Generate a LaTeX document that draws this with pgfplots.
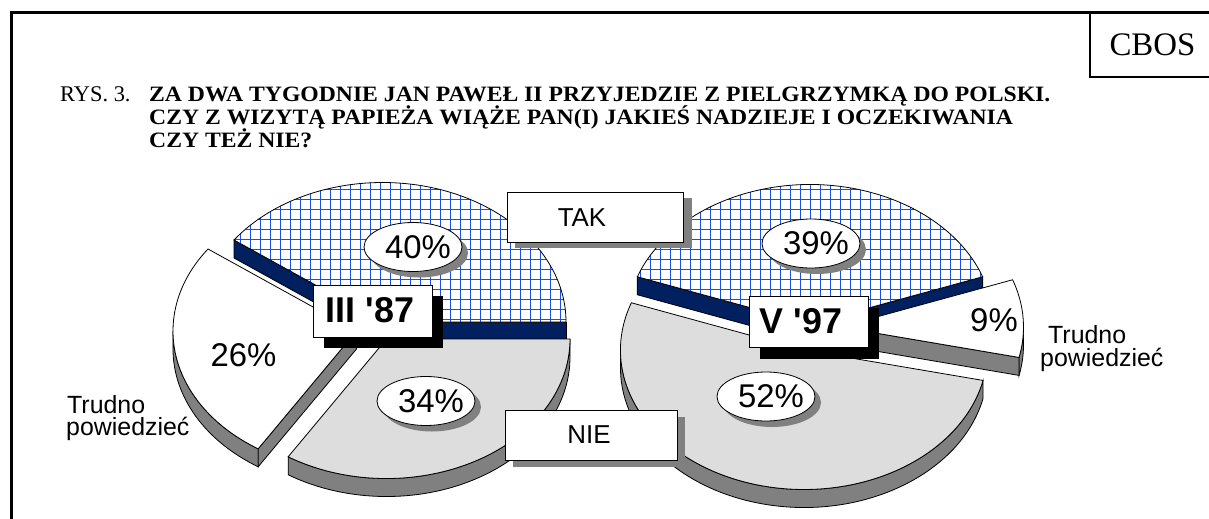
\documentclass[border=0pt]{standalone}
\usepackage{fontspec}
\setmainfont{Liberation Serif}
\newfontfamily\arial{Liberation Sans}
\newfontfamily\titlefont[FakeStretch=1.08]{Liberation Serif}
\usepackage{pgfplots}
\pgfplotsset{compat=1.18}
\usepackage{pgfplotstable}

\definecolor{navy}{RGB}{0,32,96}
\definecolor{hatchblue}{RGB}{25,80,225}
\definecolor{lgray}{RGB}{221,221,221}
\definecolor{sgray}{RGB}{128,128,128}

\tikzset{
  side/.style={fill=#1, draw=black, line width=0.8bp},
  hgrid/.style={draw=hatchblue, line width=1.3bp, step=10bp}}

% survey results (%): III '87 and V '97
\pgfplotstableread{
label  y1987 y1997
TAK    40    39
NIE    34    52
Trudno 26    9
}\piedata

\pgfplotstablegetelem{0}{y1987}\of\piedata \edef\aTAK{\pgfplotsretval}
\pgfplotstablegetelem{1}{y1987}\of\piedata \edef\aNIE{\pgfplotsretval}
\pgfplotstablegetelem{2}{y1987}\of\piedata \edef\aTR{\pgfplotsretval}
\pgfplotstablegetelem{0}{y1997}\of\piedata \edef\bTAK{\pgfplotsretval}
\pgfplotstablegetelem{1}{y1997}\of\piedata \edef\bNIE{\pgfplotsretval}
\pgfplotstablegetelem{2}{y1997}\of\piedata \edef\bTR{\pgfplotsretval}

\newcommand{\RX}{183.5bp}
\newcommand{\RY}{139.5bp}
\newcommand{\DP}{18bp}
% top face: cx, cy, a1, a2, style
\newcommand{\topface}[5]{%
  \path[#5] (axis cs:#1,#2) -- ([shift={(#3:\RX\space and \RY)}]axis cs:#1,#2)
    arc[start angle=#3, end angle=#4, x radius=\RX, y radius=\RY] -- cycle;}
% hatched top face: cx, cy, a1, a2
\newcommand{\hatchface}[4]{%
  \topface{#1}{#2}{#3}{#4}{fill=white}
  \begin{scope}
    \topface{#1}{#2}{#3}{#4}{clip}
    \draw[hgrid, xshift=0.5bp, yshift=0.5bp] ([shift={(-200bp,-40bp)}]axis cs:#1,#2) grid ([shift={(200bp,160bp)}]axis cs:#1,#2);
  \end{scope}
  \topface{#1}{#2}{#3}{#4}{draw=black, line width=0.8bp}}
% outer side: cx, cy, b1, b2, style
\newcommand{\outerside}[5]{%
  \path[#5] ([shift={(#3:\RX\space and \RY)}]axis cs:#1,#2)
    arc[start angle=#3, end angle=#4, x radius=\RX, y radius=\RY] -- ++(0,-\DP)
    arc[start angle=#4, end angle=#3, x radius=\RX, y radius=\RY] -- cycle;}
% radial side: cx, cy, a, style
\newcommand{\radial}[4]{%
  \path[#4] (axis cs:#1,#2) -- ([shift={(#3:\RX\space and \RY)}]axis cs:#1,#2)
    -- ++(0,-\DP) -- ([yshift=-\DP]axis cs:#1,#2) -- cycle;}
% percentage label in ellipse: x, y, text
\newcommand{\pctell}[3]{%
  \fill[sgray] ([shift={(6bp,-6bp)}]axis cs:#1,#2) ellipse[x radius=49bp, y radius=24.5bp];
  \filldraw[fill=white, draw=black, line width=0.8bp] (axis cs:#1,#2) ellipse[x radius=49bp, y radius=24.5bp];
  \node[font={\arial\fontsize{33}{36}\selectfont}, inner sep=0pt] at ([xshift=5bp]axis cs:#1,#2) {#3};}

\begin{document}
\begin{tikzpicture}
\pgfmathsetmacro\LtakEnd{3.6*\aTAK}
\pgfmathsetmacro\LtrEnd{\LtakEnd+3.6*\aTR}
\pgfmathsetmacro\RtakStart{90-1.8*\bTAK}
\pgfmathsetmacro\RtakEnd{90+1.8*\bTAK}
\pgfmathsetmacro\RnieEnd{\RtakEnd+3.6*\bNIE}
\pgfmathsetmacro\RtrStart{\RnieEnd-360}
\begin{axis}[x=1bp, y=1bp, xmin=0, xmax=1209, ymin=0, ymax=519, y dir=reverse,
  hide axis, clip=false, anchor=south west, at={(0,0)}]

% frame
\draw[line width=3bp] (axis cs:11,519) -- (axis cs:11,12) -- (axis cs:1209,12);
\draw[line width=2bp] (axis cs:1090,12) -- (axis cs:1090,77) -- (axis cs:1210,77);
\node[font=\fontsize{33}{36}\selectfont, anchor=base] at (axis cs:1152.5,55.5) {CBOS};

% title
\node[anchor=base west, inner sep=0pt, font=\fontsize{22.5}{24}\selectfont] at (axis cs:60,101.5) {RYS. 3.};
\node[anchor=base west, inner sep=0pt, font=\titlefont\bfseries\fontsize{22}{23}\selectfont] at (axis cs:149,101.5) {ZA DWA TYGODNIE JAN PAWEŁ II PRZYJEDZIE Z PIELGRZYMKĄ DO POLSKI.};
\node[anchor=base west, inner sep=0pt, font=\titlefont\bfseries\fontsize{22}{23}\selectfont] at (axis cs:149,124.5) {CZY Z WIZYTĄ PAPIEŻA WIĄŻE PAN(I) JAKIEŚ NADZIEJE I OCZEKIWANIA};
\node[anchor=base west, inner sep=0pt, font=\titlefont\bfseries\fontsize{22}{23}\selectfont] at (axis cs:149,147.5) {CZY TEŻ NIE?};

% ===== left pie: III '87 =====
% TAK
\radial{382.5}{322}{0}{side=navy}
\radial{382.5}{322}{\LtakEnd}{side=navy}
\hatchface{382.5}{322}{0}{\LtakEnd}
% Trudno powiedziec
\outerside{356.5}{331}{180}{\LtrEnd}{side=sgray}
\radial{356.5}{331}{\LtrEnd}{side=sgray}
\topface{356.5}{331}{\LtakEnd}{\LtrEnd}{side=white}
% NIE
\outerside{386.5}{339}{\LtrEnd}{360}{side=sgray}
\topface{386.5}{339}{\LtrEnd}{360}{side=lgray}

% ===== right pie: V '97 =====
% TAK
\radial{810}{324}{\RtakStart}{side=navy}
\radial{810}{324}{\RtakEnd}{side=navy}
\hatchface{810}{324}{\RtakStart}{\RtakEnd}
% Trudno powiedziec
\outerside{840}{327}{\RtrStart}{0}{side=sgray}
\radial{840}{327}{\RtrStart}{side=sgray}
\topface{840}{327}{\RtrStart}{\RtakStart}{side=white}
% NIE
\outerside{804}{350}{180}{\RnieEnd}{side=sgray}
\topface{804}{350}{\RtakEnd}{\RnieEnd}{side=lgray}

% percentage labels
\pctell{413}{247}{\aTAK\%}
\pctell{426}{401}{\aNIE\%}
\pctell{811}{243.5}{\bTAK\%}
\pctell{766}{396.5}{\bNIE\%}
\node[font={\arial\fontsize{33}{36}\selectfont}, inner sep=0pt] at (axis cs:243.5,355) {\aTR\%};
\node[font={\arial\fontsize{33}{36}\selectfont}, inner sep=0pt] at (axis cs:994,320) {\bTR\%};

% year boxes
\fill[black] (axis cs:324,296) rectangle (axis cs:443,348);
\filldraw[fill=white, draw=black, line width=0.8bp] (axis cs:313,285) rectangle (axis cs:432,337);
\node[font={\arial\bfseries\fontsize{36}{38}\selectfont}, inner sep=0pt] at (axis cs:370,310) {III '87};
\fill[black] (axis cs:760,308) rectangle (axis cs:879,359);
\filldraw[fill=white, draw=black, line width=0.8bp] (axis cs:749,296) rectangle (axis cs:868,347);
\node[font={\arial\bfseries\fontsize{36}{38}\selectfont}, inner sep=0pt] at (axis cs:801,321) {V '97};

% category boxes
\fill[sgray] (axis cs:515,198) rectangle (axis cs:692,248);
\filldraw[fill=white, draw=black, line width=0.8bp] (axis cs:507,192) rectangle (axis cs:683,242);
\node[font={\arial\fontsize{26}{28}\selectfont}, inner sep=0pt] at (axis cs:582,217.5) {TAK};
\fill[sgray] (axis cs:513,417) rectangle (axis cs:685,467);
\filldraw[fill=white, draw=black, line width=0.8bp] (axis cs:505,410) rectangle (axis cs:677,460);
\node[font={\arial\fontsize{26}{28}\selectfont}, inner sep=0pt] at (axis cs:589,435) {NIE};

% Trudno powiedziec labels
\node[anchor=base west, inner sep=0pt, font={\arial\fontsize{25}{27}\selectfont}] at (axis cs:67,413) {Trudno};
\node[anchor=base west, inner sep=0pt, font={\arial\fontsize{25}{27}\selectfont}] at (axis cs:66,435.5) {powiedzieć};
\node[anchor=base west, inner sep=0pt, font={\arial\fontsize{25}{27}\selectfont}] at (axis cs:1048,343) {Trudno};
\node[anchor=base west, inner sep=0pt, font={\arial\fontsize{25}{27}\selectfont}] at (axis cs:1040,366.5) {powiedzieć};
\end{axis}
\pgfresetboundingbox
\path[use as bounding box] (0,0) rectangle (1209bp,519bp);
\end{tikzpicture}
\end{document}
